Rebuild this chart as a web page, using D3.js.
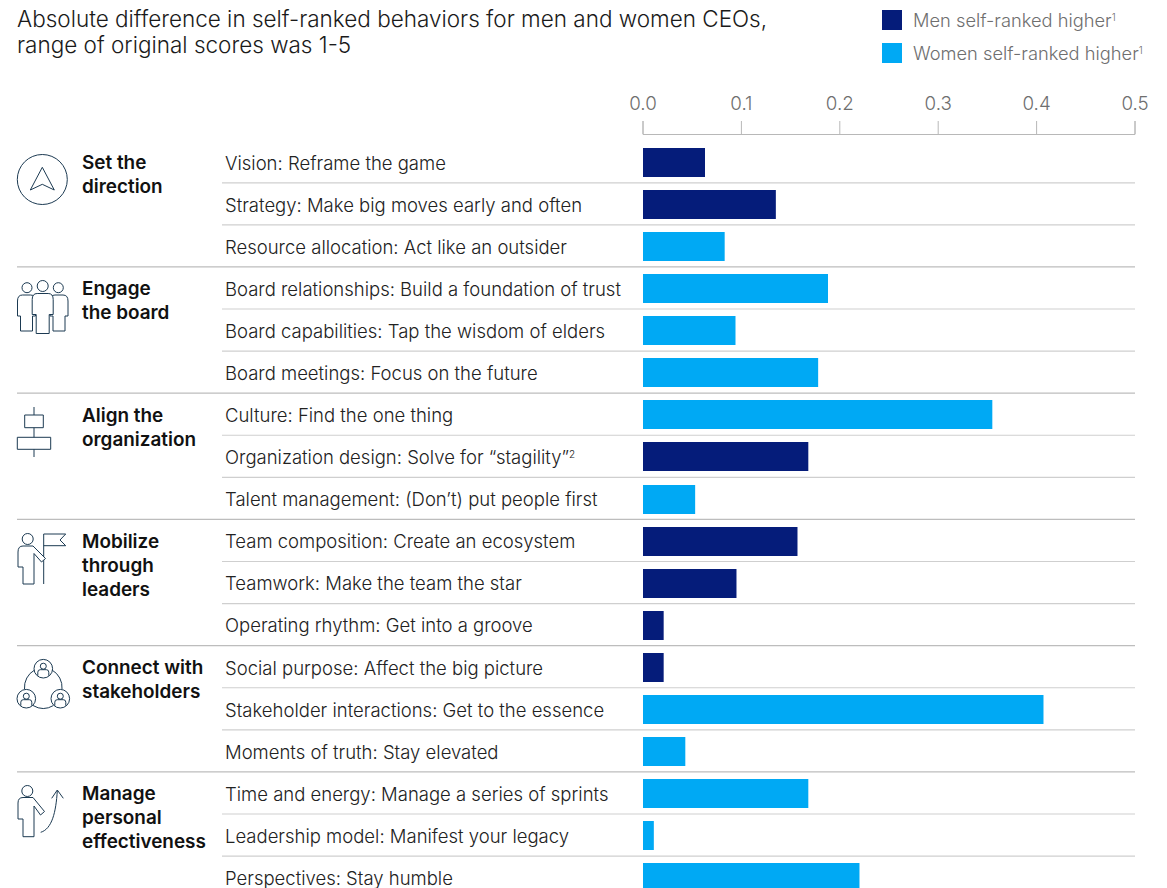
<!DOCTYPE html>
<html><head><meta charset="utf-8">
<script src="https://cdn.jsdelivr.net/npm/d3@7"></script>
<style>
html,body{margin:0;padding:0;background:#fff;overflow:hidden}
text{font-family:Inter,"Liberation Sans",sans-serif}
</style></head><body>
<svg id="c" width="1167" height="888"></svg>
<script>
const titleLines = ["Absolute difference in self-ranked behaviors for men and women CEOs,","range of original scores was 1-5"];
const legendLabels = ["Men self-ranked higher","Women self-ranked higher"];
const groupLabels = [["Set the","direction"],["Engage","the board"],["Align the","organization"],["Mobilize","through","leaders"],["Connect with","stakeholders"],["Manage","personal","effectiveness"]];
const behaviors = ["Vision: Reframe the game","Strategy: Make big moves early and often","Resource allocation: Act like an outsider","Board relationships: Build a foundation of trust","Board capabilities: Tap the wisdom of elders","Board meetings: Focus on the future","Culture: Find the one thing","Organization design: Solve for “stagility”","Talent management: (Don’t) put people first","Team composition: Create an ecosystem","Teamwork: Make the team the star","Operating rhythm: Get into a groove","Social purpose: Affect the big picture","Stakeholder interactions: Get to the essence","Moments of truth: Stay elevated","Time and energy: Manage a series of sprints","Leadership model: Manifest your legacy","Perspectives: Stay humble"];
const values = [0.063,0.135,0.083,0.188,0.094,0.178,0.355,0.168,0.053,0.157,0.095,0.021,0.021,0.407,0.043,0.168,0.011,0.22];
const higher = ["m","m","w","w","w","w","w","m","w","m","m","m","m","w","w","w","w","w"];
const ticks = [0,0.1,0.2,0.3,0.4,0.5];

const NAVY="#051c7a", BLUE="#00a9f4", INK="#1c3a52";
const svg=d3.select("#c");
const x=d3.scaleLinear().domain([0,0.5]).range([643,1135]);
const y=d3.scaleBand().domain(d3.range(behaviors.length)).range([140.7,140.7+18*42.08]);
const color=d3.scaleOrdinal().domain(["m","w"]).range([NAVY,BLUE]);

// title
svg.append("g").selectAll("text").data(titleLines).join("text")
  .attr("x",17).attr("y",(d,i)=>27+i*26).attr("font-size",22.5).attr("font-weight",300).attr("fill","#1a1a1a").text(d=>d);

// legend
const lg=svg.append("g").selectAll("g").data(legendLabels).join("g").attr("transform",(d,i)=>`translate(882,${10+i*33})`);
lg.append("rect").attr("width",20).attr("height",20).attr("fill",(d,i)=>color(["m","w"][i]));
const lt=lg.append("text").attr("x",31).attr("y",17).attr("font-size",18.3).attr("font-weight",300).attr("fill","#6f6f6f");
lt.append("tspan").text(d=>d);
lt.append("tspan").attr("font-size",10).attr("dy",-6).text("1");

// axis
const ax=svg.append("g").attr("transform","translate(-0.5,134)")
  .call(d3.axisTop(x).tickValues(ticks).tickFormat(d3.format(".1f")).tickSize(13).tickPadding(11));
ax.selectAll("path,line").attr("stroke","#b8b8b8").attr("stroke-width",1);
ax.selectAll("text").attr("font-size",18.75).attr("font-weight",300).attr("fill","#6f6f6f");

// separators
svg.append("g").selectAll("line").data(d3.range(1,behaviors.length)).join("line")
  .attr("x1",d=>d%3===0?17:222).attr("x2",1135)
  .attr("y1",d=>y(d)).attr("y2",d=>y(d))
  .attr("stroke",d=>d%3===0?"#bdbdbd":"#cfcfcf").attr("stroke-width",1.2);

// row labels
const rows=svg.append("g").selectAll("text").data(behaviors).join("text")
  .attr("x",225).attr("y",(d,i)=>y(i)+y.bandwidth()/2+7.8).attr("font-size",18.5).attr("font-weight",300).attr("fill","#222");
rows.append("tspan").text(d=>d);
rows.filter((d,i)=>i===7).append("tspan").attr("font-size",10).attr("dy",-6).text("2");

// bars
svg.append("g").selectAll("rect").data(values).join("rect")
  .attr("x",x(0)).attr("y",(d,i)=>Math.round(y(i)+7.2)).attr("height",29)
  .attr("width",d=>x(d)-x(0)).attr("fill",(d,i)=>color(higher[i]));

// group labels
const gl=svg.append("g").selectAll("text").data(groupLabels).join("text")
  .attr("x",82).attr("y",(d,i)=>y(i*3)+28.5).attr("font-size",18.9).attr("font-weight",600).attr("fill","#111");
gl.selectAll("tspan").data(d=>d).join("tspan").attr("x",82).attr("dy",(d,i)=>i?24:0).text(d=>d);

// icons
const ic=svg.append("g").attr("fill","#fff").attr("stroke",INK).attr("stroke-width",1).attr("stroke-linejoin","round");
const circ=(g,cx,cy,r)=>g.append("circle").attr("cx",cx).attr("cy",cy).attr("r",r);
const path=(g,d,fill)=>g.append("path").attr("d",d).attr("fill",fill||"#fff");
// set the direction
circ(ic,42.3,179.5,25);
path(ic,"M42.3,167.3L54.3,190L42.3,184.3L30.3,190Z");
// engage
const person=(cx,top,w,lw,h)=>`M${cx-w+5},${top}L${cx+w-5},${top}Q${cx+w},${top} ${cx+w},${top+6}L${cx+w},${top+21}L${cx+lw},${top+21}L${cx+lw},${top+h}L${cx-lw},${top+h}L${cx-lw},${top+21}L${cx-w},${top+21}L${cx-w},${top+6}Q${cx-w},${top} ${cx-w+5},${top}Z`;
circ(ic,27,287.7,5); circ(ic,58.3,287.7,5); circ(ic,42.7,286,5.5);
path(ic,person(26.5,295,9,6,36)); path(ic,person(59,295,9,6,36)); path(ic,person(42.7,293.5,10.5,6.5,40));
// align
path(ic,"M34,407V457","none");
ic.append("rect").attr("x",24.7).attr("y",415).attr("width",18.6).attr("height",12.7);
ic.append("rect").attr("x",17.3).attr("y",437.3).attr("width",33.4).attr("height",12);
// mobilize
circ(ic,27.7,539,5.5);
path(ic,"M43.7,584V534H65.7L60,540L65.7,545.7H43.7","none");
path(ic,"M23,546H33L45.5,558.5L41.5,562L34,553.5V584H23V567H18V552Q18,546 23,546Z");
// connect
path(ic,"M34.6,670A20,20 0 0 0 24.5,689","none");
path(ic,"M52,670A20,20 0 0 1 62,689","none");
path(ic,"M33,705.5A20,20 0 0 0 53.5,705.5","none");
[[43.3,668.7],[26.3,698.7],[60.3,698.7]].forEach(([a,b])=>{
  circ(ic,a,b,9.3);
  circ(ic,a,b-2.5,3);
  path(ic,`M${a-5.5},${b+7}V${b+3.5}Q${a-5.5},${b+1} ${a-3},${b+1}H${a+3}Q${a+5.5},${b+1} ${a+5.5},${b+3.5}V${b+7}`,"none");
});
// manage
circ(ic,27.3,791,5.5);
path(ic,"M23,797.5H33L44.5,811.5L40.5,815L34,806V836.7H23V819H18V803Q18,797.5 23,797.5Z");
path(ic,"M40.7,832.3C52,829 56,812 57.3,790.7M51.7,798.3L57.3,790L63.3,798.3","none");
</script></body></html>
